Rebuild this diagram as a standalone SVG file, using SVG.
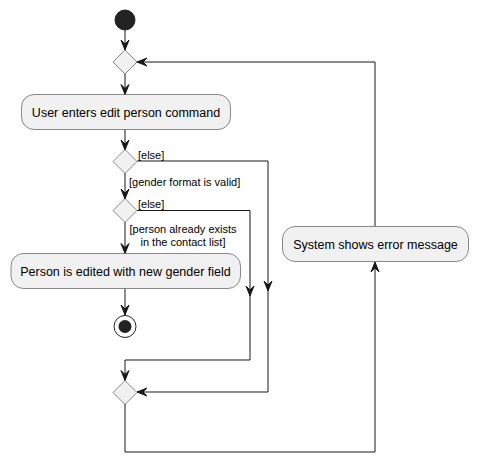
<svg xmlns="http://www.w3.org/2000/svg" width="478" height="463" viewBox="0 0 478 463">
<defs>
<style>
.box{fill:#F1F1F1;stroke:#181818;stroke-width:0.5}
.dia{fill:#F1F1F1;stroke:#181818;stroke-width:0.5}
.ln{fill:none;stroke:#181818;stroke-width:1}
.ah{fill:#181818;stroke:#181818;stroke-width:1}
.t{font-family:"Liberation Sans",Arial,sans-serif;font-size:12.5px;fill:#000000}
.g{font-family:"Liberation Sans",Arial,sans-serif;font-size:11px;fill:#000000}
</style>
</defs>
<rect width="478" height="463" fill="#FFFFFF"/>
<g id="connectors">
<path class="ln" d="M125,30 L125,50"/>
<polygon class="ah" points="121,40 125,50 129,40 125,44"/>
<path class="ln" d="M125,74 L125,94.5"/>
<polygon class="ah" points="121,84.5 125,94.5 129,84.5 125,88.5"/>
<path class="ln" d="M125,129.5 L125,150"/>
<polygon class="ah" points="121,140 125,150 129,140 125,144"/>
<path class="ln" d="M125,173 L125,199"/>
<polygon class="ah" points="121,189 125,199 129,189 125,193"/>
<path class="ln" d="M125,222 L125,253.5"/>
<polygon class="ah" points="121,243.5 125,253.5 129,243.5 125,247.5"/>
<path class="ln" d="M125,288.5 L125,315"/>
<polygon class="ah" points="121,305 125,315 129,305 125,309"/>
<path class="ln" d="M137,161 L268,161 L268,392 L137,392"/>
<polygon class="ah" points="264,281 268,291 272,281 268,285"/>
<polygon class="ah" points="147,388 137,392 147,396 143,392"/>
<path class="ln" d="M137,210.5 L250,210.5 L250,360 L125,360 L125,380.5"/>
<polygon class="ah" points="246,286 250,296 254,286 250,290"/>
<polygon class="ah" points="121,370.5 125,380.5 129,370.5 125,374.5"/>
<path class="ln" d="M125,404 L125,452 L375,452 L375,262"/>
<polygon class="ah" points="371,272 375,262 379,272 375,268"/>
<path class="ln" d="M375,226 L375,62 L137,62"/>
<polygon class="ah" points="147,58 137,62 147,66 143,62"/>
</g>
<g id="start"><circle cx="125" cy="20" r="10" fill="#222222" stroke="#222222" stroke-width="1"/></g>
<g id="merge1"><polygon class="dia" points="125,50 137,62 125,74 113,62"/></g>
<g id="userEnters">
<rect class="box" x="21.5" y="94.5" width="209" height="35" rx="12.5" ry="12.5"/>
<text class="t" x="126" y="116.5" text-anchor="middle">User enters edit person command</text>
</g>
<g id="decision1">
<polygon class="dia" points="125,149.5 137,161.5 125,173.5 113,161.5"/>
<text class="g" x="138" y="159">[else]</text>
<text class="g" x="129" y="186">[gender format is valid]</text>
</g>
<g id="decision2">
<polygon class="dia" points="125,198.5 137,210.5 125,222.5 113,210.5"/>
<text class="g" x="138" y="207.5">[else]</text>
<text class="g" x="183" y="233" text-anchor="middle">[person already exists</text>
<text class="g" x="183" y="246" text-anchor="middle">in the contact list]</text>
</g>
<g id="personEdited">
<rect class="box" x="11" y="253.5" width="229.5" height="35" rx="12.5" ry="12.5"/>
<text class="t" x="125.5" y="275.5" text-anchor="middle">Person is edited with new gender field</text>
</g>
<g id="stop">
<circle cx="125" cy="326.5" r="11" fill="none" stroke="#222222" stroke-width="1"/>
<circle cx="125" cy="326.5" r="6.5" fill="#222222"/>
</g>
<g id="merge2"><polygon class="dia" points="125,380.5 137,392.5 125,404.5 113,392.5"/></g>
<g id="errorMessage">
<rect class="box" x="282.5" y="226.5" width="186" height="35" rx="12.5" ry="12.5"/>
<text class="t" x="375.5" y="248.5" text-anchor="middle">System shows error message</text>
</g>
</svg>
